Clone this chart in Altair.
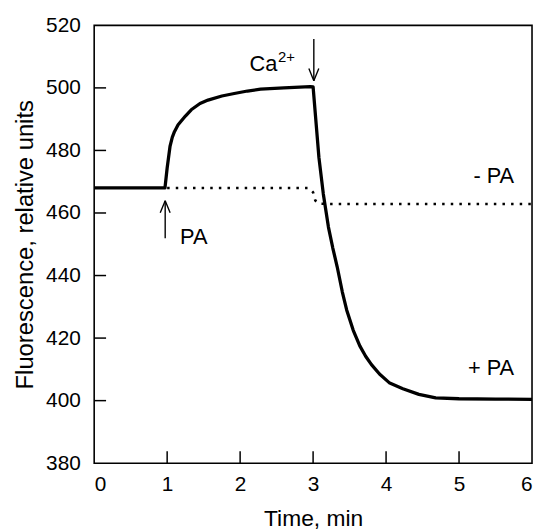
import altair as alt
import pandas as pd

# +PA trace (solid)
t_plus = [0, 0.97, 1.0, 1.04, 1.07, 1.1, 1.15, 1.25, 1.33, 1.45, 1.56, 1.75, 1.92, 2.1, 2.28, 2.6, 2.96,
          3.0, 3.08, 3.14, 3.21, 3.27, 3.33, 3.40, 3.46, 3.55, 3.64, 3.72, 3.8, 3.91, 4.05, 4.23, 4.45,
          4.68, 5.0, 5.5, 6.0]
f_plus = [468, 468, 474.4, 481.4, 484.2, 486, 488.2, 491, 493, 495, 496.1, 497.4, 498.2, 499, 499.6, 500, 500.4,
          500.3, 477.7, 466.1, 455.5, 448.8, 442.8, 434.8, 429.0, 422.5, 417.5, 414.2, 411.5, 408.5, 405.6,
          403.8, 402.0, 400.9, 400.6, 400.5, 400.4]

# -PA trace (dotted)
t_minus = [1.0, 2.94, 3.0, 3.03, 3.07, 3.2, 6.0]
f_minus = [468, 468, 466.6, 464, 463, 462.9, 462.9]

x_ticks = [0, 1, 2, 3, 4, 5, 6]
y_ticks = [380, 400, 420, 440, 460, 480, 500, 520]

# arrows (segments in data coordinates)
arr_x = [3.01, 2.942, 3.078, 0.973, 0.905, 1.041]
arr_y = [515.6, 506.2, 506.2, 451.9, 460.1, 460.1]
arr_x2 = [3.01, 3.01, 3.01, 0.973, 0.973, 0.973]
arr_y2 = [502.3, 502.3, 502.3, 463.9, 463.9, 463.9]

# text annotations
lab_text = ["Ca", "PA"]
lab_x = [2.13, 1.177]
lab_y = [505.4, 450.0]
sup_text = ["2+"]
sup_x = [2.52]
sup_y = [508.3]
r_text = ["- PA", "+ PA"]
r_x = [5.755, 5.755]
r_y = [469.6, 408.2]

W, H = 442, 442
xs = alt.Scale(domain=[0, 6], nice=False, zero=False)
ys = alt.Scale(domain=[380, 520], nice=False, zero=False)

plus_df = pd.DataFrame({"t": t_plus, "f": f_plus})
minus_df = pd.DataFrame({"t": t_minus, "f": f_minus})

base_x = alt.X("t:Q", scale=xs, axis=alt.Axis(
    title="Time, min", values=x_ticks, format="d", ticks=False, tickSize=0, domain=False, grid=False,
    labelPadding=11, labelFontSize=21, titleFontSize=23, titleFontWeight="normal",
    titleX=221, titleY=63, titleBaseline="alphabetic", labelColor="black", titleColor="black"))
base_y = alt.Y("f:Q", scale=ys, axis=alt.Axis(
    title="Fluorescence, relative units", values=y_ticks, format="d", ticks=False, tickSize=0,
    domain=False, grid=False, labelPadding=14, labelFontSize=21, titleFontSize=24,
    titleFontWeight="normal", titleX=-62, titleY=221, titleAngle=270, titleBaseline="alphabetic",
    titleAlign="center", labelColor="black", titleColor="black"))

minus_line = alt.Chart(minus_df).mark_line(
    color="black", strokeWidth=2.6, strokeDash=[2.5, 6.2]).encode(x=base_x, y=base_y)
plus_line = alt.Chart(plus_df).mark_line(
    color="black", strokeWidth=3.3, strokeJoin="round").encode(x="t:Q", y="f:Q")

xt_df = pd.DataFrame({"t": x_ticks[1:-1]})
yt_df = pd.DataFrame({"f": y_ticks[1:-1]})
xticks = alt.Chart(xt_df).mark_rule(color="black", strokeWidth=1.5).encode(
    x="t:Q", y=alt.value(H), y2=alt.value(H - 12))
yticks = alt.Chart(yt_df).mark_rule(color="black", strokeWidth=1.5).encode(
    y="f:Q", x=alt.value(0), x2=alt.value(12))

arr_df = pd.DataFrame({"x": arr_x, "y": arr_y, "x2": arr_x2, "y2": arr_y2})
arrows = alt.Chart(arr_df).mark_rule(color="black", strokeWidth=1.4).encode(
    x="x:Q", y="y:Q", x2="x2:Q", y2="y2:Q")

lab_df = pd.DataFrame({"txt": lab_text, "x": lab_x, "y": lab_y})
labels = alt.Chart(lab_df).mark_text(
    align="left", baseline="alphabetic", fontSize=22, color="black").encode(
    x="x:Q", y="y:Q", text="txt:N")
sup_df = pd.DataFrame({"txt": sup_text, "x": sup_x, "y": sup_y})
sups = alt.Chart(sup_df).mark_text(
    align="left", baseline="alphabetic", fontSize=15, color="black").encode(
    x="x:Q", y="y:Q", text="txt:N")
r_df = pd.DataFrame({"txt": r_text, "x": r_x, "y": r_y})
rlabels = alt.Chart(r_df).mark_text(
    align="right", baseline="alphabetic", fontSize=22, color="black").encode(
    x="x:Q", y="y:Q", text="txt:N")

chart = alt.layer(minus_line, plus_line, xticks, yticks, arrows, labels, sups, rlabels).properties(
    width=W, height=H,
    autosize=alt.AutoSizeParams(type="none"),
    padding={"left": 87, "top": 15, "right": 2, "bottom": 70},
).configure(font="Liberation Sans").configure_view(
    stroke="black", strokeWidth=1.6
).configure_axis(labelFont="Liberation Sans", titleFont="Liberation Sans")

chart.save("out.html", embed_options={"renderer": "svg", "actions": False})
